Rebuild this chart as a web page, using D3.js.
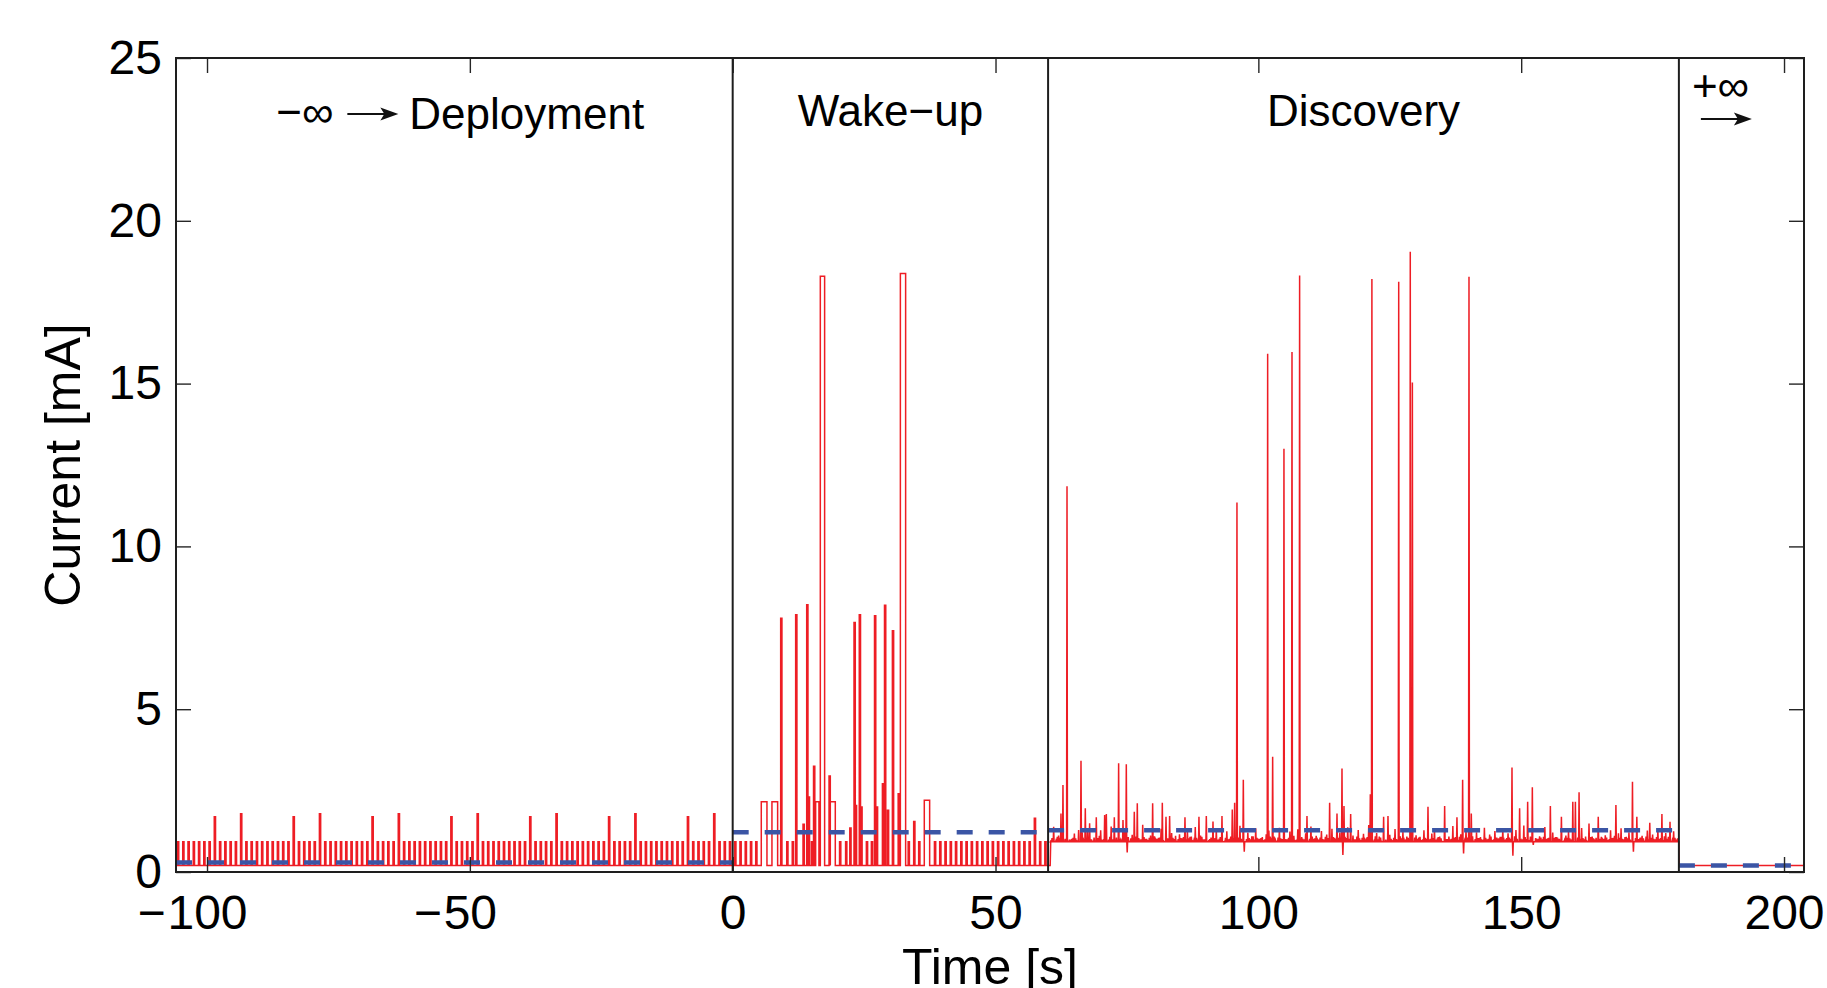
<!DOCTYPE html>
<html>
<head>
<meta charset="utf-8">
<script src="https://cdn.jsdelivr.net/npm/d3@7"></script>
<style>
  html, body { margin: 0; padding: 0; background: #fff; }
  svg { display: block; font-family: "Liberation Sans", Arial, Helvetica, sans-serif; }
</style>
</head>
<body>
<svg id="chart" width="1827" height="988"></svg>
<script>
var xTicks = [-100, -50, 0, 50, 100, 150, 200]
var yTicks = [0, 5, 10, 15, 20, 25]

// phase edges (first/last are the plot edges), labels and mean current [mA]
var phaseBounds = [-105.9, 0, 60, 180, 203.8]
var phaseNames = ['Deployment', 'Wake−up', 'Discovery', '']
var phaseMeans = [0.29, 1.22, 1.28, 0.2]

var sleepLevel = 0.2
var idleLevel = 0.93

// [time s, current mA] beacon pulses while sleeping
var deployPulses = [
  [-105.5, 0.93], [-104.5, 0.93], [-103.5, 0.93], [-102.5, 0.93], [-101.5, 0.93],
  [-100.5, 0.93], [-99.5, 0.93], [-98.5, 1.70], [-97.5, 0.93], [-96.5, 0.93],
  [-95.5, 0.93], [-94.5, 0.93], [-93.5, 1.79], [-92.5, 0.93], [-91.5, 0.93],
  [-90.5, 0.93], [-89.5, 0.93], [-88.5, 0.93], [-87.5, 0.93], [-86.5, 0.93],
  [-85.5, 0.93], [-84.5, 0.93], [-83.5, 1.70], [-82.5, 0.93], [-81.5, 0.93],
  [-80.5, 0.93], [-79.5, 0.93], [-78.5, 1.79], [-77.5, 0.93], [-76.5, 0.93],
  [-75.5, 0.93], [-74.5, 0.93], [-73.5, 0.93], [-72.5, 0.93], [-71.5, 0.93],
  [-70.5, 0.93], [-69.5, 0.93], [-68.5, 1.70], [-67.5, 0.93], [-66.5, 0.93],
  [-65.5, 0.93], [-64.5, 0.93], [-63.5, 1.79], [-62.5, 0.93], [-61.5, 0.93],
  [-60.5, 0.93], [-59.5, 0.93], [-58.5, 0.93], [-57.5, 0.93], [-56.5, 0.93],
  [-55.5, 0.93], [-54.5, 0.93], [-53.5, 1.70], [-52.5, 0.93], [-51.5, 0.93],
  [-50.5, 0.93], [-49.5, 0.93], [-48.5, 1.79], [-47.5, 0.93], [-46.5, 0.93],
  [-45.5, 0.93], [-44.5, 0.93], [-43.5, 0.93], [-42.5, 0.93], [-41.5, 0.93],
  [-40.5, 0.93], [-39.5, 0.93], [-38.5, 1.70], [-37.5, 0.93], [-36.5, 0.93],
  [-35.5, 0.93], [-34.5, 0.93], [-33.5, 1.79], [-32.5, 0.93], [-31.5, 0.93],
  [-30.5, 0.93], [-29.5, 0.93], [-28.5, 0.93], [-27.5, 0.93], [-26.5, 0.93],
  [-25.5, 0.93], [-24.5, 0.93], [-23.5, 1.70], [-22.5, 0.93], [-21.5, 0.93],
  [-20.5, 0.93], [-19.5, 0.93], [-18.5, 1.79], [-17.5, 0.93], [-16.5, 0.93],
  [-15.5, 0.93], [-14.5, 0.93], [-13.5, 0.93], [-12.5, 0.93], [-11.5, 0.93],
  [-10.5, 0.93], [-9.5, 0.93], [-8.5, 1.70], [-7.5, 0.93], [-6.5, 0.93],
  [-5.5, 0.93], [-4.5, 0.93], [-3.5, 1.79], [-2.5, 0.93], [-1.5, 0.93],
  [-0.5, 0.93]
]

var wakePulses = [
  [0.5, 0.93], [1.5, 0.93], [2.5, 0.93], [3.5, 0.93], [4.5, 0.93],
  [9.25, 7.79], [10.4, 0.93], [11.45, 0.93], [12.1, 7.9], [13.5, 1.47],
  [14.2, 8.21], [14.5, 2.3], [15.1, 0.93], [15.5, 3.25], [18.45, 2.95],
  [20.45, 0.93], [21.6, 0.93], [22.4, 1.35], [23.2, 7.66], [23.45, 2.04],
  [24.2, 7.9], [24.5, 2.0], [25.55, 0.93], [26.5, 0.93], [27.1, 7.87],
  [27.45, 2.0], [28.6, 2.71], [29.0, 8.19], [29.55, 1.9], [30.5, 7.41],
  [31.6, 2.4], [33.5, 0.93], [34.55, 1.55], [35.5, 0.93], [38.5, 0.93],
  [39.5, 0.93], [40.5, 0.93], [41.5, 0.93], [42.5, 0.93], [43.5, 0.93],
  [44.5, 0.93], [45.5, 0.93], [46.5, 0.93], [47.5, 0.93], [48.5, 0.93],
  [49.5, 0.93], [50.5, 0.93], [51.5, 0.93], [52.5, 0.93], [53.5, 0.93],
  [54.5, 0.93], [55.5, 0.93], [56.5, 0.93], [57.5, 1.65], [58.5, 0.93],
  [59.5, 0.93]
]

// [start s, end s, current mA]
var wakeBlocks = [
  [5.44, 6.52, 2.16], [7.47, 8.55, 2.16], [15.78, 16.41, 2.16], [16.67, 17.49, 18.3],
  [18.57, 19.52, 2.16], [31.9, 32.9, 18.38], [36.45, 37.47, 2.2]
]

// radio idle fuzz, one reading every 0.5 s from 60.5 s
var noiseStart = 60.5
var noiseStep = 0.5
var discoveryNoise = [
  0.95, 1.00, 0.97, 1.12, 0.94, 1.05, 1.30, 0.96, 1.02, 1.18,
  0.95, 1.08, 1.22, 0.97, 1.35, 1.01, 0.94, 1.15, 1.04, 1.28,
  0.96, 1.10, 0.99, 1.40, 0.95, 1.06, 1.20, 0.97, 1.32, 1.03,
  0.94, 1.14, 1.00, 1.26, 0.96, 1.45, 1.02, 0.95, 1.12, 1.24,
  0.98, 1.05, 1.33, 0.95, 1.10, 0.97, 1.20, 1.01, 0.94, 1.16,
  1.03, 0.96, 1.28, 1.08, 0.95, 1.38, 0.99, 1.12, 0.96, 1.22,
  0.95, 1.06, 1.00, 1.30, 0.97, 1.14, 0.94, 1.25, 1.02, 0.96,
  1.18, 0.98, 1.42, 0.95, 1.07, 1.21, 0.96, 1.10, 1.34, 0.97,
  1.04, 0.95, 1.16, 1.27, 0.98, 1.09, 0.94, 1.36, 1.01, 1.13,
  0.96, 1.24, 1.03, 0.95, 1.31, 1.07, 0.97, 1.19, 0.94, 1.40,
  1.02, 1.11, 0.96, 1.26, 0.99, 1.15, 0.95, 1.33, 1.05, 0.97,
  1.21, 0.94, 1.08, 1.37, 0.96, 1.12, 1.00, 1.29, 0.95, 1.17,
  0.98, 1.44, 1.03, 0.96, 1.20, 1.09, 0.94, 1.27, 1.01, 1.14,
  0.95, 1.32, 0.99, 1.10, 1.23, 0.96, 1.05, 1.39, 0.97, 1.13,
  1.06, 0.95, 1.28, 1.02, 0.96, 1.18, 1.35, 0.98, 1.09, 0.94,
  1.25, 1.01, 0.96, 1.41, 1.07, 0.95, 1.16, 1.03, 1.30, 0.97,
  1.12, 0.94, 1.22, 1.04, 0.96, 1.36, 1.00, 1.15, 0.95, 1.26,
  0.98, 1.08, 1.33, 0.96, 1.19, 1.02, 0.94, 1.29, 1.06, 0.97,
  1.43, 1.01, 0.95, 1.14, 1.24, 0.97, 1.10, 0.96, 1.38, 1.03,
  0.95, 1.21, 1.07, 0.98, 1.31, 0.94, 1.12, 1.26, 0.96, 1.04,
  1.17, 0.97, 1.35, 1.00, 0.95, 1.23, 1.09, 0.96, 1.40, 1.02,
  0.98, 1.13, 0.95, 1.28, 1.05, 0.97, 1.19, 1.34, 0.96, 1.08,
  1.22, 0.95, 1.03, 1.37, 0.98, 1.11, 0.94, 1.27, 1.01, 1.15,
  0.96, 1.30, 1.04, 0.95, 1.20, 1.08, 0.97, 1.25, 0.99
]

// smaller ripple in between, every 0.5 s from 60.75 s
var rippleStart = 60.75
var discoveryRipple = [
  1.04, 1.00, 1.08, 0.98, 1.06, 1.02, 1.10, 0.99, 1.05, 1.03,
  1.01, 1.07, 0.98, 1.09, 1.03, 1.00, 1.06, 1.02, 1.11, 0.99,
  1.05, 1.02, 1.08, 1.00, 1.04, 1.10, 0.98, 1.06, 1.01, 1.07,
  1.03, 0.99, 1.09, 1.04, 1.00, 1.07, 1.02, 1.05, 0.98, 1.10,
  1.02, 1.06, 1.00, 1.08, 1.03, 0.99, 1.05, 1.11, 1.01, 1.04,
  1.07, 1.00, 1.03, 1.09, 0.98, 1.05, 1.02, 1.08, 1.00, 1.06,
  1.01, 1.10, 1.04, 0.99, 1.07, 1.02, 1.05, 1.00, 1.09, 1.03,
  0.98, 1.06, 1.02, 1.08, 1.01, 1.04, 1.10, 0.99, 1.05, 1.02,
  1.07, 1.00, 1.04, 1.09, 1.02, 0.98, 1.06, 1.03, 1.08, 1.01,
  1.05, 1.02, 1.11, 0.99, 1.04, 1.07, 1.00, 1.05, 1.02, 1.09,
  1.03, 0.98, 1.06, 1.01, 1.08, 1.04, 1.00, 1.07, 1.02, 1.05,
  1.10, 0.99, 1.04, 1.02, 1.06, 1.00, 1.09, 1.03, 1.05, 0.98,
  1.07, 1.02, 1.04, 1.10, 1.00, 1.06, 1.03, 0.99, 1.08, 1.02,
  1.05, 1.01, 1.07, 1.03, 0.98, 1.09, 1.04, 1.00, 1.06, 1.02,
  1.08, 1.00, 1.05, 1.11, 1.02, 1.04, 0.99, 1.07, 1.03, 1.06,
  1.01, 1.09, 1.02, 1.05, 1.00, 1.08, 1.04, 0.98, 1.06, 1.03,
  1.10, 1.01, 1.04, 1.07, 0.99, 1.05, 1.02, 1.09, 1.00, 1.06,
  1.03, 1.08, 0.98, 1.04, 1.06, 1.01, 1.10, 1.02, 1.05, 1.00,
  1.07, 1.03, 1.09, 0.99, 1.04, 1.02, 1.06, 1.08, 1.01, 1.05,
  1.00, 1.04, 1.07, 1.02, 1.10, 0.98, 1.05, 1.03, 1.08, 1.01,
  1.06, 1.02, 1.04, 1.09, 1.00, 1.07, 1.03, 1.05, 0.99, 1.08,
  1.02, 1.06, 1.01, 1.04, 1.11, 1.00, 1.05, 1.02, 1.07, 1.03,
  0.99, 1.08, 1.04, 1.01, 1.06, 1.03, 1.09, 1.00, 1.05, 1.02,
  1.07, 1.01, 1.04, 1.10, 1.02, 1.06, 0.98, 1.05, 1.03
]

// [time s, current mA] spikes and dips during discovery
var discoverySpikes = [
  [61.06, 1.39], [62.45, 1.80], [62.83, 2.67], [63.6, 11.85], [65.81, 1.29],
  [66.26, 3.42], [67.08, 1.96], [67.9, 1.5], [69.17, 1.68], [70.76, 1.75],
  [71.08, 1.78], [72.6, 1.68], [73.42, 3.34], [74.25, 1.6], [74.88, 3.31],
  [75.05, 0.6], [76.4, 1.85], [76.97, 2.11], [79.89, 2.11], [81.73, 2.13],
  [82.43, 1.7], [83.12, 1.72], [86.04, 1.68], [88.7, 1.7], [90.1, 1.72],
  [91.37, 1.55], [93.08, 1.72], [95.04, 1.92], [95.49, 2.13], [95.93, 11.35],
  [97.14, 2.83], [97.32, 0.62], [101.77, 15.92], [102.72, 3.54], [104.87, 13.0],
  [106.4, 15.97], [107.85, 18.32], [109.25, 1.72], [113.56, 2.13], [114.96, 1.8],
  [115.91, 3.18], [116.08, 0.52], [116.29, 2.03], [117.56, 1.78], [121.3, 2.39],
  [121.6, 18.21], [123.83, 1.7], [124.66, 1.72], [126.7, 18.13], [128.9, 19.05],
  [129.3, 15.03], [132.27, 2.0], [135.44, 2.03], [137.78, 1.68], [138.86, 2.83],
  [139.04, 0.57], [140.07, 18.28], [140.51, 1.8], [148.25, 3.21], [148.42, 0.5],
  [149.7, 1.96], [151.23, 2.16], [152.12, 2.6], [152.3, 0.83], [155.55, 2.03],
  [157.65, 1.7], [159.82, 2.16], [160.31, 2.16], [161.01, 2.45], [162.9, 1.49],
  [164.66, 1.7], [168.02, 2.06], [171.17, 2.77], [171.35, 0.62], [172.0, 1.7],
  [174.46, 1.51], [176.77, 1.78], [178.31, 1.54]
]

var svg = d3.select('#chart')

var x = d3.scaleLinear().domain([phaseBounds[0], phaseBounds[4]]).range([176, 1804])
var y = d3.scaleLinear().domain([0, 25]).range([872, 58])

var plotLeft = x.range()[0], plotRight = x.range()[1]
var plotTop = y.range()[1], plotBottom = y.range()[0]

svg.append('clipPath').attr('id', 'plot-clip')
  .append('rect')
  .attr('x', plotLeft).attr('y', plotTop)
  .attr('width', plotRight - plotLeft).attr('height', plotBottom - plotTop)

/**
 * build the current trace
 */

var trace = [[phaseBounds[0], sleepLevel]]

var sleepEvents = deployPulses.concat(wakePulses).map(function (p) {
  return { t0: p[0] - 0.12, t1: p[0] + 0.12, v: p[1] }
}).concat(wakeBlocks.map(function (b) {
  return { t0: b[0], t1: b[1], v: b[2] }
}))
sleepEvents.sort(function (a, b) { return a.t0 - b.t0 })
sleepEvents.forEach(function (e) {
  trace.push([e.t0, sleepLevel], [e.t0, e.v], [e.t1, e.v], [e.t1, sleepLevel])
})

trace.push([60.4, sleepLevel], [60.5, idleLevel])

var spikes = discoverySpikes.slice()
function addFuzz(values, start) {
  values.forEach(function (v, i) {
    var t = start + i * noiseStep
    var near = discoverySpikes.some(function (s) { return Math.abs(s[0] - t) < 0.2 })
    if (!near) spikes.push([t, v])
  })
}
addFuzz(discoveryNoise, noiseStart)
addFuzz(discoveryRipple, rippleStart)
spikes.sort(function (a, b) { return a[0] - b[0] })
spikes.forEach(function (s) {
  trace.push([s[0] - 0.08, idleLevel], [s[0], s[1]], [s[0] + 0.08, idleLevel])
})

trace.push([phaseBounds[3], idleLevel], [phaseBounds[3] + 0.05, sleepLevel], [phaseBounds[4], sleepLevel])

var line = d3.line()
  .x(function (d) { return x(d[0]) })
  .y(function (d) { return y(d[1]) })

var plot = svg.append('g').attr('clip-path', 'url(#plot-clip)')

plot.append('path')
  .datum(trace)
  .attr('d', line)
  .attr('fill', 'none')
  .attr('stroke', '#ee1d24')
  .attr('stroke-width', 1.5)
  .attr('stroke-linejoin', 'miter')

// mean current per phase
phaseMeans.forEach(function (m, i) {
  plot.append('path')
    .datum([[phaseBounds[i], m], [phaseBounds[i + 1], m]])
    .attr('d', line)
    .attr('fill', 'none')
    .attr('stroke', '#3b55a5')
    .attr('stroke-width', 4.5)
    .attr('stroke-dasharray', '16,16')
})

/**
 * axes
 */

function styleAxis(g) {
  g.select('.domain').remove()
  g.selectAll('.tick line').attr('stroke', '#262626').attr('stroke-width', 1.4)
  g.selectAll('.tick text').attr('fill', '#000').attr('font-size', 48)
    .attr('font-family', '"Liberation Sans", Arial, sans-serif')
}

var xAxis = svg.append('g')
  .attr('transform', 'translate(0,' + plotBottom + ')')
  .call(d3.axisBottom(x).tickValues(xTicks).tickSize(-15).tickPadding(23)
    .tickFormat(function (d) { return Math.abs(d) }))
  .call(styleAxis)

// minus sign hangs left of the digits, matlab style
xAxis.selectAll('.tick').each(function (d) {
  if (d >= 0) return
  var t = d3.select(this).select('text')
  var w = t.node().getComputedTextLength()
  d3.select(this).append('text')
    .attr('fill', '#000').attr('font-size', 48)
    .attr('font-family', '"Liberation Sans", Arial, sans-serif')
    .attr('text-anchor', 'end')
    .attr('x', -w / 2 - 2)
    .attr('y', t.attr('y'))
    .attr('dy', t.attr('dy'))
    .text('−')
})

svg.append('g')
  .attr('transform', 'translate(0,' + plotTop + ')')
  .call(d3.axisTop(x).tickValues(xTicks).tickSize(-15).tickFormat(''))
  .call(styleAxis)

svg.append('g')
  .attr('transform', 'translate(' + plotLeft + ',0)')
  .call(d3.axisLeft(y).tickValues(yTicks).tickSize(-15).tickPadding(14))
  .call(styleAxis)

svg.append('g')
  .attr('transform', 'translate(' + plotRight + ',0)')
  .call(d3.axisRight(y).tickValues(yTicks).tickSize(-15).tickFormat(''))
  .call(styleAxis)

// phase boundaries
svg.selectAll('.phase-edge')
  .data(phaseBounds.slice(1, 4))
  .enter()
  .append('line')
  .attr('class', 'phase-edge')
  .attr('x1', function (d) { return x(d) })
  .attr('x2', function (d) { return x(d) })
  .attr('y1', plotTop)
  .attr('y2', plotBottom)
  .attr('stroke', '#1e1e1e')
  .attr('stroke-width', 2)

svg.append('rect')
  .attr('x', plotLeft).attr('y', plotTop)
  .attr('width', plotRight - plotLeft).attr('height', plotBottom - plotTop)
  .attr('fill', 'none')
  .attr('stroke', '#1e1e1e')
  .attr('stroke-width', 2)

svg.append('text')
  .attr('x', (plotLeft + plotRight) / 2)
  .attr('y', 984)
  .attr('text-anchor', 'middle')
  .attr('font-size', 50)
  .text('Time [s]')

svg.append('text')
  .attr('transform', 'translate(80,' + ((plotTop + plotBottom) / 2) + ') rotate(-90)')
  .attr('text-anchor', 'middle')
  .attr('font-size', 50)
  .text('Current [mA]')

/**
 * phase labels
 */

function arrow(x0, x1, yy) {
  svg.append('line')
    .attr('x1', x0).attr('x2', x1 - 12)
    .attr('y1', yy).attr('y2', yy)
    .attr('stroke', '#111').attr('stroke-width', 2)
  svg.append('path')
    .attr('d', 'M' + (x1 - 18) + ',' + (yy - 6.5) + 'L' + x1 + ',' + yy +
      'L' + (x1 - 18) + ',' + (yy + 6.5) + 'L' + (x1 - 14) + ',' + yy + 'Z')
    .attr('fill', '#111')
}

var deployMid = (x(phaseBounds[0]) + x(phaseBounds[1])) / 2
svg.append('text')
  .attr('x', deployMid - 178).attr('y', 127)
  .attr('font-size', 44)
  .text('−∞')
arrow(deployMid - 107, deployMid - 56, 114)
svg.append('text')
  .attr('x', deployMid - 45).attr('y', 129)
  .attr('font-size', 44)
  .text(phaseNames[0])

;[1, 2].forEach(function (i) {
  svg.append('text')
    .attr('x', (x(phaseBounds[i]) + x(phaseBounds[i + 1])) / 2)
    .attr('y', 126)
    .attr('text-anchor', 'middle')
    .attr('font-size', 44)
    .text(phaseNames[i])
})

var endStart = x(phaseBounds[3])
svg.append('text')
  .attr('x', endStart + 13).attr('y', 101)
  .attr('font-size', 44)
  .text('+∞')
arrow(endStart + 22, endStart + 73, 119)
</script>
</body>
</html>
